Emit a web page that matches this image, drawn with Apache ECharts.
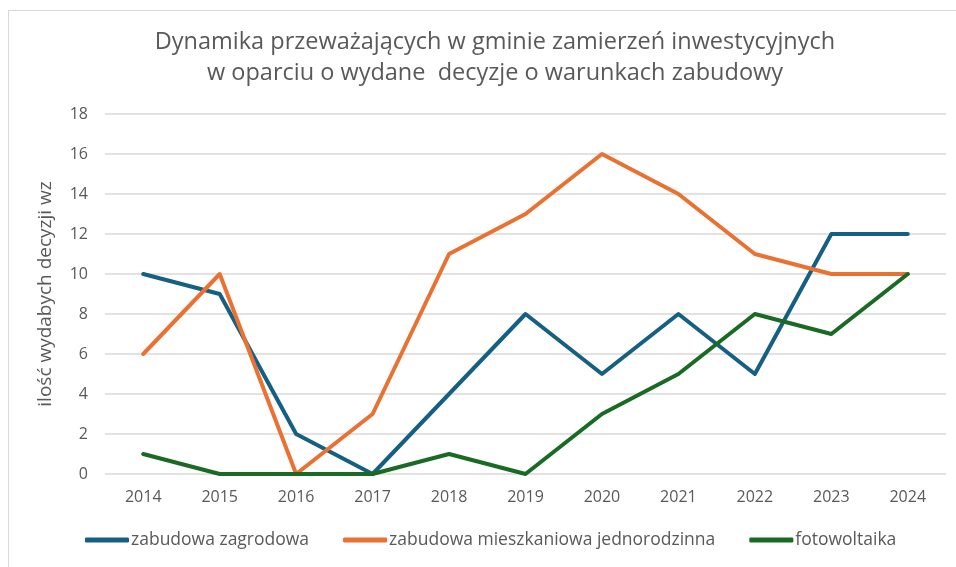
<!DOCTYPE html>
<html lang="pl">
<head>
  <meta charset="UTF-8">
  <title>Dynamika zamierzeń inwestycyjnych</title>
  <script src="https://cdn.jsdelivr.net/npm/echarts@6/dist/echarts.min.js"></script>
  <style>
    * { padding: 0; margin: 0; }
    body { background: #fff; }
    #frame {
      position: absolute; left: 8px; top: 10px; width: 960px; height: 570px;
      border-left: 1px solid #d9d9d9; border-top: 1px solid #d9d9d9;
    }
    #box { position: absolute; left: 0; top: 0; width: 956px; height: 567px; }
  </style>
</head>
<body>
  <div id="frame"></div>
  <div id="box"></div>
  <script>
    // dane
    var years = ['2014', '2015', '2016', '2017', '2018', '2019', '2020', '2021', '2022', '2023', '2024'];
    var zagrodowa = [10, 9, 2, 0, 4, 8, 5, 8, 5, 12, 12];
    var jednorodzinna = [6, 10, 0, 3, 11, 13, 16, 14, 11, 10, 10];
    var fotowoltaika = [1, 0, 0, 0, 1, 0, 3, 5, 8, 7, 10];
    var seriesNames = ['zabudowa zagrodowa', 'zabudowa mieszkaniowa jednorodzinna', 'fotowoltaika'];
    var colors = ['#156082', '#E97132', '#196B24'];

    var font = 'Open Sans, Noto Sans, sans-serif';
    var mCharts = echarts.init(document.getElementById('box'));

    function line(name, data, color) {
      return {
        name: name,
        type: 'line',
        data: data,
        symbol: 'none',
        lineStyle: { width: 4, color: color, cap: 'round', join: 'round' },
        itemStyle: { color: color },
        animation: false
      };
    }

    var option = {
      backgroundColor: 'transparent',
      title: {
        text: 'Dynamika przeważających w gminie zamierzeń inwestycyjnych\nw oparciu o wydane  decyzje o warunkach zabudowy',
        left: 490,
        textAlign: 'center',
        top: 22,
        textStyle: { fontFamily: font, fontSize: 23.5, fontWeight: 'normal', color: '#595959', lineHeight: 31 }
      },
      legend: {
        bottom: 13,
        left: 80,
        icon: 'roundRect',
        itemWidth: 44,
        itemHeight: 5,
        itemGap: 34,
        textStyle: { fontFamily: font, fontSize: 17.5, color: '#595959', padding: [0, 0, 0, -3] },
        data: seriesNames
      },
      grid: { left: 105, right: 10, top: 114, bottom: 93, containLabel: false },
      xAxis: {
        type: 'category',
        data: years,
        boundaryGap: true,
        axisLine: { show: false },
        axisTick: { show: false },
        axisLabel: { fontFamily: font, fontSize: 16, color: '#595959', margin: 15 }
      },
      yAxis: {
        type: 'value',
        min: 0,
        max: 18,
        interval: 2,
        name: 'ilość wydabych decyzji wz',
        nameLocation: 'middle',
        nameGap: 50,
        nameTextStyle: { fontFamily: font, fontSize: 19, color: '#595959' },
        axisLabel: { fontFamily: font, fontSize: 16, color: '#595959', margin: 17 },
        splitLine: { lineStyle: { color: '#d9d9d9', width: 1.5 } }
      },
      series: [
        line(seriesNames[0], zagrodowa, colors[0]),
        line(seriesNames[1], jednorodzinna, colors[1]),
        line(seriesNames[2], fotowoltaika, colors[2])
      ]
    };
    mCharts.setOption(option);
  </script>
</body>
</html>
